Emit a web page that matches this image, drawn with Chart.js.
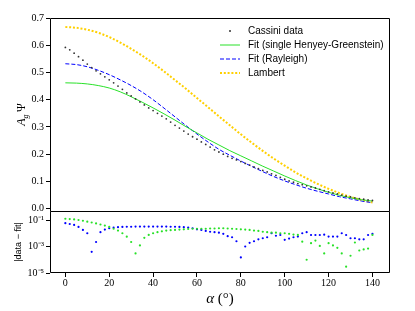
<!DOCTYPE html>
<html>
<head>
<meta charset="utf-8">
<script src="https://cdn.jsdelivr.net/npm/chart.js@4"></script>
<style>
  html, body { margin: 0; padding: 0; background: #fff; }
  #wrap { position: relative; width: 415px; height: 311px; }
  canvas { position: absolute; left: 0; }
  #top { top: 0; }
  #bottom { top: 201px; }
</style>
</head>
<body>
<div id="wrap">
  <canvas id="top" width="415" height="219"></canvas>
  <canvas id="bottom" width="415" height="110"></canvas>
</div>
<script>
// phase angles of the Cassini points (deg)
const dataAlpha = [0,2,4,6,8,10,12,14,16,18,20,22,24,26,28,30,32,34,36,38,40,42,44,46,48,50,52,54,56,58,60,62,64,66,68,70,72,74,76,78,80,82,84,86,88,90,92,94,96,98,100,102,104,106,108,110,112,114,116,118,120,122,124,126,128,130,132,134,136,138,140];
const cassini = [0.592,0.583,0.571,0.558,0.545,0.531,0.518,0.506,0.495,0.484,
  0.473,0.462,0.450,0.438,0.425,0.414,0.403,0.392,0.381,0.370,
  0.360,0.350,0.340,0.330,0.318,0.306,0.296,0.285,0.274,0.264,
  0.255,0.245,0.236,0.226,0.216,0.208,0.200,0.192,0.185,0.179,
  0.173,0.166,0.160,0.153,0.147,0.141,0.135,0.128,0.122,0.115,
  0.108,0.102,0.097,0.092,0.088,0.084,0.080,0.076,0.071,0.066,
  0.062,0.058,0.054,0.050,0.046,0.043,0.040,0.037,0.035,0.032,
  0.030];

// model curves, sampled every 5 deg
const fitAlpha = [0,5,10,15,20,25,30,35,40,45,50,55,60,65,70,75,80,85,90,95,100,105,110,115,120,125,130,135,140];
const hgFit = [0.462,0.461,0.458,0.452,0.443,0.429,0.411,0.391,0.370,0.348,0.325,0.301,0.278,0.255,0.234,0.213,0.194,0.175,0.156,0.138,0.120,0.103,0.087,0.073,0.060,0.049,0.040,0.033,0.028];
const rayleighFit = [0.532,0.529,0.521,0.508,0.492,0.473,0.452,0.428,0.400,0.369,0.337,0.305,0.274,0.245,0.218,0.196,0.175,0.155,0.136,0.118,0.102,0.088,0.075,0.064,0.054,0.044,0.036,0.028,0.022];
const lambert = [0.667,0.664,0.657,0.646,0.630,0.610,0.587,0.562,0.534,0.504,0.472,0.440,0.406,0.373,0.339,0.306,0.273,0.242,0.212,0.184,0.158,0.133,0.111,0.091,0.073,0.057,0.0435,0.032,0.023];

// |data - fit| residuals, same alphas as the data
const resHG = [0.125,0.118,0.110,0.100,0.088,0.075,0.065,0.055,0.046,0.038,
  0.030,0.022,0.016,0.010,0.0055,0.0022,0.0003,0.0012,0.0045,0.0075,
  0.010,0.012,0.014,0.016,0.017,0.018,0.019,0.020,0.021,0.022,
  0.022,0.022,0.022,0.023,0.023,0.024,0.024,0.023,0.022,0.021,
  0.020,0.019,0.018,0.016,0.015,0.013,0.012,0.011,0.011,0.010,
  0.010,0.009,0.008,0.0075,0.0023,0.0001,0.0018,0.0028,0.0011,0.0003,
  0.0018,0.0012,0.0008,0.0003,0.00003,0.0002,0.002,0.0005,0.0006,0.0007,
  0.0075];
const resRayleigh = [0.058,0.050,0.043,0.030,0.018,0.010,0.0004,0.0022,0.012,0.019,
  0.024,0.027,0.029,0.030,0.031,0.031,0.032,0.032,0.032,0.032,
  0.032,0.032,0.032,0.032,0.031,0.031,0.030,0.029,0.027,0.024,
  0.020,0.018,0.015,0.013,0.012,0.011,0.009,0.006,0.005,0.0025,
  0.00015,0.001,0.0019,0.0025,0.0035,0.0042,0.005,0.010,0.0065,0.0074,
  0.0032,0.004,0.005,0.0056,0.010,0.012,0.0074,0.0074,0.0074,0.0078,
  0.0056,0.0056,0.0056,0.010,0.0074,0.0042,0.0042,0.0035,0.0035,0.0074,
  0.009];

const xTicks = [0,20,40,60,80,100,120,140];
const yTicks = [0,0.1,0.2,0.3,0.4,0.5,0.6,0.7];
const resTicks = [1e-5,1e-3,1e-1];
const resTickLabels = ['10⁻⁵','10⁻³','10⁻¹'];
const legendLabels = ['Cassini data','Fit (single Henyey-Greenstein)','Fit (Rayleigh)','Lambert'];

const GREEN = 'rgb(40,225,40)';
const BLUE = 'rgb(0,0,255)';
const GOLD = '#ffd000';
const DOT = '#333';

const pairs = (xs, ys) => xs.map((x, i) => ({x: x, y: ys[i]}));

Chart.defaults.font.family = '"Liberation Serif", serif';
Chart.defaults.font.size = 10;
Chart.defaults.color = '#000';

// axes frame (matplotlib spines)
const framePlugin = {
  id: 'frame',
  afterDraw(chart, args, opts) {
    const {ctx, chartArea: a} = chart;
    const l = Math.round(a.left) + 0.5, r = Math.round(a.right) - 0.5;
    const t = Math.round(a.top) + 0.5, b = Math.round(a.bottom) - 0.5;
    ctx.save();
    ctx.strokeStyle = '#000';
    ctx.lineWidth = 1;
    ctx.beginPath();
    if (opts.bottom) {
      ctx.moveTo(l, b); ctx.lineTo(r, b);
    }
    ctx.moveTo(l, b + (opts.bottom ? 0 : 1)); ctx.lineTo(l, t);
    ctx.lineTo(r, t); ctx.lineTo(r, b + (opts.bottom ? 0 : 1));
    ctx.stroke();
    ctx.restore();
  }
};

// legend inside the upper axes
const legendPlugin = {
  id: 'innerLegend',
  afterDraw(chart) {
    const ctx = chart.ctx;
    ctx.save();
    ctx.font = '10px "Liberation Sans", sans-serif';
    ctx.textBaseline = 'middle';
    legendLabels.forEach((label, i) => {
      const y = 31 + i * 14;
      if (i === 0) {
        ctx.fillStyle = DOT;
        ctx.beginPath(); ctx.arc(230, y, 1, 0, Math.PI * 2); ctx.fill();
      } else {
        ctx.beginPath();
        ctx.strokeStyle = [GREEN, BLUE, GOLD][i - 1];
        ctx.lineWidth = i === 3 ? 2 : 1;
        ctx.setLineDash(i === 2 ? [4, 2] : i === 3 ? [2, 1.8] : []);
        ctx.moveTo(220, y); ctx.lineTo(240, y);
        ctx.stroke();
        ctx.setLineDash([]);
      }
      ctx.fillStyle = '#000';
      ctx.fillText(label, 248, y);
    });
    ctx.restore();
  }
};

// y title with subscript: A_g Psi
const yTitlePlugin = {
  id: 'yTitle',
  afterDraw(chart) {
    const ctx = chart.ctx;
    const a = chart.chartArea;
    ctx.save();
    ctx.translate(25, (a.top + a.bottom) / 2);
    ctx.rotate(-Math.PI / 2);
    ctx.textBaseline = 'alphabetic';
    ctx.fillStyle = '#000';
    const big = 'italic 12px "Liberation Serif", serif';
    const small = 'italic 8px "Liberation Serif", serif';
    const up = '12px "Liberation Serif", serif';
    ctx.font = big; const wA = ctx.measureText('A').width;
    ctx.font = small; const wg = ctx.measureText('g').width;
    ctx.font = up; const wP = ctx.measureText('\u2009Ψ').width;
    let x = -(wA + wg + wP) / 2;
    ctx.font = big; ctx.fillText('A', x, 0); x += wA;
    ctx.font = small; ctx.fillText('g', x, 3); x += wg;
    ctx.font = up; ctx.fillText('\u2009Ψ', x, 0);
    ctx.restore();
  }
};

// x title: italic alpha followed by upright (°)
const xTitlePlugin = {
  id: 'xTitle',
  afterDraw(chart) {
    const ctx = chart.ctx;
    const a = chart.chartArea;
    ctx.save();
    ctx.textBaseline = 'alphabetic';
    ctx.fillStyle = '#000';
    const it = 'italic 15px "Liberation Serif", serif';
    const up = '15px "Liberation Serif", serif';
    ctx.font = it; const w1 = ctx.measureText('α').width;
    ctx.font = up; const w2 = ctx.measureText(' (°)').width;
    let x = (a.left + a.right) / 2 - (w1 + w2) / 2;
    const y = chart.height - 8;
    ctx.font = it; ctx.fillText('α', x, y);
    ctx.font = up; ctx.fillText(' (°)', x + w1, y);
    ctx.restore();
  }
};

new Chart(document.getElementById('top'), {
  type: 'line',
  data: {
    datasets: [
      { label: legendLabels[0], data: pairs(dataAlpha, cassini), showLine: false,
        pointRadius: 0.9, pointBorderWidth: 0, pointBackgroundColor: DOT },
      { label: legendLabels[1], data: pairs(fitAlpha, hgFit), borderColor: GREEN,
        borderWidth: 1, pointRadius: 0, cubicInterpolationMode: 'monotone' },
      { label: legendLabels[2], data: pairs(fitAlpha, rayleighFit), borderColor: BLUE,
        borderWidth: 1, borderDash: [4, 2], pointRadius: 0, cubicInterpolationMode: 'monotone' },
      { label: legendLabels[3], data: pairs(fitAlpha, lambert), borderColor: GOLD,
        borderWidth: 2, borderDash: [2, 1.8], pointRadius: 0, cubicInterpolationMode: 'monotone' }
    ]
  },
  options: {
    responsive: false,
    animation: false,
    devicePixelRatio: 1,
    layout: { padding: { top: 18, right: 25, bottom: 8, left: 0 } },
    plugins: { legend: { display: false }, tooltip: { enabled: false }, frame: { bottom: false } },
    scales: {
      x: { type: 'linear', display: false, min: -7, max: 148 },
      y: {
        min: -0.0085, max: 0.7,
        afterFit: s => { s.width = 50; },
        afterBuildTicks: s => { s.ticks = yTicks.map(v => ({ value: v })); },
        ticks: { callback: v => v.toFixed(1), padding: 2 },
        grid: { drawOnChartArea: false, tickLength: 4, color: '#000' },
        border: { display: false }
      }
    }
  },
  plugins: [framePlugin, legendPlugin, yTitlePlugin]
});

new Chart(document.getElementById('bottom'), {
  type: 'line',
  data: {
    datasets: [
      { data: pairs(dataAlpha, resHG), showLine: false, pointRadius: 1.1,
        pointBorderWidth: 0, pointBackgroundColor: GREEN },
      { data: pairs(dataAlpha, resRayleigh), showLine: false, pointRadius: 1.1,
        pointBorderWidth: 0, pointBackgroundColor: BLUE }
    ]
  },
  options: {
    responsive: false,
    animation: false,
    devicePixelRatio: 1,
    layout: { padding: { top: 10, right: 25, bottom: 0, left: 0 } },
    plugins: { legend: { display: false }, tooltip: { enabled: false }, frame: { bottom: true } },
    scales: {
      x: {
        type: 'linear', min: -7, max: 148,
        afterFit: s => { s.height = 38; },
        afterBuildTicks: s => { s.ticks = xTicks.map(v => ({ value: v })); },
        ticks: { padding: 0, maxRotation: 0, autoSkip: false },
        grid: { drawOnChartArea: false, tickLength: 4, color: '#000' },
        border: { display: false }
      },
      y: {
        type: 'logarithmic', min: 1e-5, max: 0.48,
        afterFit: s => { s.width = 50; },
        afterBuildTicks: s => { s.ticks = resTicks.map(v => ({ value: v })); },
        ticks: { callback: (v, i) => resTickLabels[i], padding: 2 },
        grid: { drawOnChartArea: false, tickLength: 4, color: '#000' },
        border: { display: false },
        title: { display: true, text: '|data − fit|',
          font: { family: '"Liberation Sans", sans-serif', size: 9 }, padding: { top: 13, bottom: 0 } }
      }
    }
  },
  plugins: [framePlugin, xTitlePlugin]
});
</script>
</body>
</html>
